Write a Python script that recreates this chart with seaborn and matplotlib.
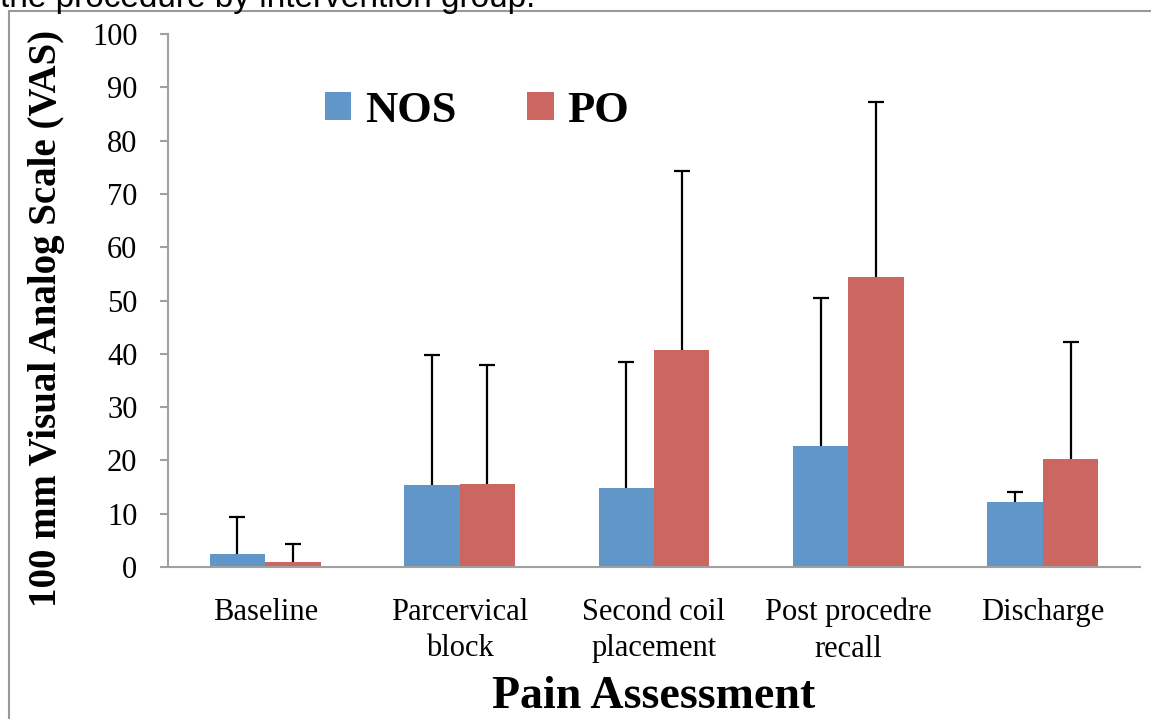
import numpy as np
import pandas as pd
import matplotlib
matplotlib.use("Agg")
import matplotlib.pyplot as plt
from matplotlib.patches import Patch
from matplotlib.lines import Line2D
import seaborn as sns

# dados
categorias = ["Baseline", "Parcervical\nblock", "Second coil\nplacement",
              "Post procedre\nrecall", "Discharge"]
grupos = ["NOS", "PO"]
media_nos = [2.4, 15.3, 14.8, 22.7, 12.2]
media_po = [1.0, 15.6, 40.7, 54.4, 20.3]
dp_nos = [7.0, 24.5, 23.7, 27.8, 1.9]
dp_po = [3.3, 22.3, 33.6, 32.8, 21.9]
cores = ["#6096C8", "#CC6660"]

df = pd.DataFrame({
    "categoria": categorias * 2,
    "grupo": ["NOS"] * 5 + ["PO"] * 5,
    "vas": media_nos + media_po,
    "dp": dp_nos + dp_po,
})

sns.set_style("white")
plt.rcParams["text.color"] = "black"
plt.rcParams["axes.labelcolor"] = "black"
plt.rcParams["xtick.color"] = "black"
plt.rcParams["ytick.color"] = "black"
serif = ["Liberation Serif", "DejaVu Serif"]

fig = plt.figure(figsize=(11.51, 7.19), dpi=100)
ax = fig.add_axes([168 / 1151, 1 - 567 / 719, (1140 - 168) / 1151, 533 / 719])

sns.barplot(data=df, x="categoria", y="vas", hue="grupo", order=categorias,
            hue_order=grupos, palette=cores, saturation=1, width=0.57,
            errorbar=None, edgecolor="none", legend=False, ax=ax)

# barras de erro (somente para cima)
for cont, g in zip(ax.containers, grupos):
    sub = df[df["grupo"] == g].set_index("categoria").loc[categorias]
    xs = [p.get_x() + p.get_width() / 2 for p in cont.patches]
    eb = ax.errorbar(xs, sub["vas"].values, yerr=[np.zeros(5), sub["dp"].values],
                     fmt="none", ecolor="black", elinewidth=1.6, capsize=6,
                     capthick=1.6, zorder=3)
    eb[1][0].set_visible(False)  # esconde o cap de baixo

ax.set_ylim(0, 100)
ax.set_xlim(-0.5, 4.5)
ax.set_yticks(range(0, 101, 10))
ax.set_yticklabels([str(v) for v in range(0, 101, 10)], fontfamily=serif, fontsize=22)
ax.set_xticks(range(5))
ax.set_xticklabels(categorias, fontfamily=serif, fontsize=22, linespacing=1.35)
ax.set_xticks(np.arange(-0.5, 5, 1), minor=True)
ax.tick_params(axis="x", which="major", length=0, pad=22)
ax.tick_params(axis="x", which="minor", length=8, width=1.5, color="#A0A0A0", direction="out")
ax.tick_params(axis="y", length=6, width=1.5, color="#A0A0A0", labelcolor="black",
               direction="out", pad=16, left=True)

for s in ["top", "right"]:
    ax.spines[s].set_visible(False)
for s in ["left", "bottom"]:
    ax.spines[s].set_color("#A0A0A0")
    ax.spines[s].set_linewidth(1.5)

ax.set_xlabel("Pain Assessment", fontfamily=serif, fontsize=33, fontweight="bold", labelpad=9)
ax.set_ylabel("100 mm Visual Analog Scale (VAS)", fontfamily=serif, fontsize=28,
              fontweight="bold")
ax.yaxis.set_label_coords(-0.106, 0.467)

handles = [Patch(facecolor=c, edgecolor="none", label=g) for c, g in zip(cores, grupos)]
ax.legend(handles=handles, ncol=2, loc="center left", bbox_to_anchor=(0.12, 0.856),
          frameon=False, prop={"family": serif, "size": 32, "weight": "bold"},
          handlelength=0.6, handleheight=0.6, handletextpad=0.3, columnspacing=1.6)

# moldura e texto cortado do topo
fig.add_artist(Line2D([9 / 1151, 9 / 1151], [0, 1 - 11 / 719], color="#999999", lw=1.5))
fig.add_artist(Line2D([9 / 1151, 1], [1 - 11 / 719, 1 - 11 / 719], color="#999999", lw=1.5))
fig.text(0.0, 1 - 7 / 719, "the procedure by intervention group.",
         fontfamily=["Liberation Sans", "DejaVu Sans"], fontsize=24, va="baseline", ha="left")

fig.savefig("out.png", dpi=100)
